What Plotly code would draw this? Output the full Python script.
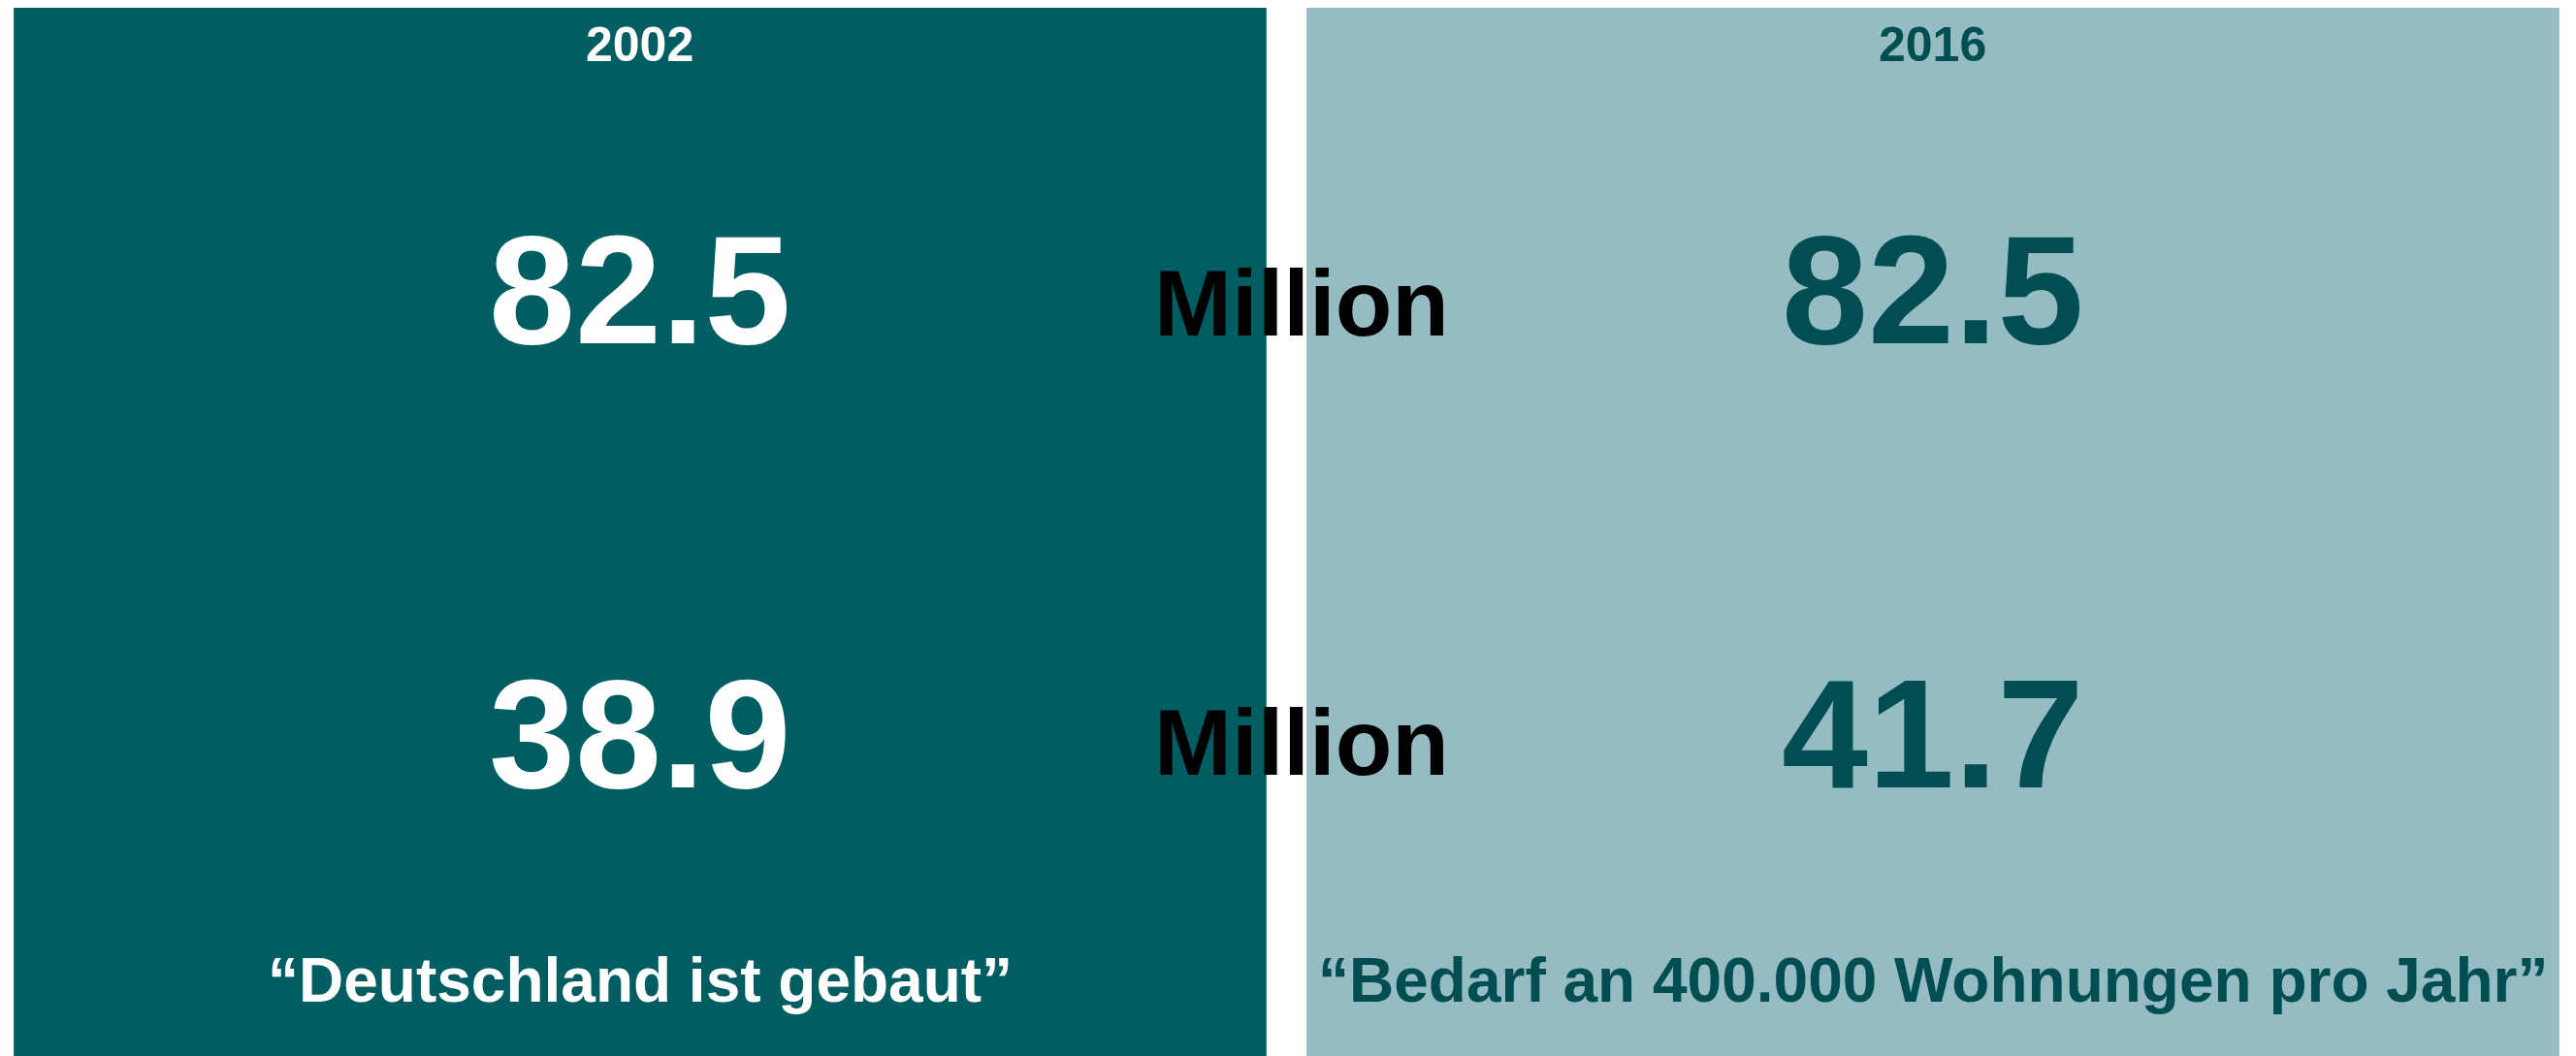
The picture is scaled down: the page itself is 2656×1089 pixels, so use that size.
import plotly.graph_objects as go

years = ["2002", "2016"]
population = [82.5, 82.5]
households = [38.9, 41.7]
unit = "Million"
quotes = ["“Deutschland ist gebaut”", "“Bedarf an 400.000 Wohnungen pro Jahr”"]

bar_colors = ["#005E63", "#95BCC3"]
text_colors = ["#FFFFFF", "#004D52"]
font = "Liberation Sans, Arial, sans-serif"

fig = go.Figure()
fig.add_trace(go.Bar(x=years, y=[1, 1], marker_color=bar_colors, marker_line_width=0,
                     width=0.969, hoverinfo="skip", showlegend=False))

annotations = []
for i, yr in enumerate(years):
    c = text_colors[i]
    annotations.append(dict(x=i, y=0.965, text="<b>%s</b>" % yr, font=dict(size=50, color=c)))
    annotations.append(dict(x=i, y=0.733, text="<b>%.1f</b>" % population[i], font=dict(size=160, color=c)))
    annotations.append(dict(x=i, y=0.313, text="<b>%.1f</b>" % households[i], font=dict(size=160, color=c)))
    annotations.append(dict(x=i, y=0.079, text="<b>%s</b>" % quotes[i], font=dict(size=64, color=c)))

for yy in [0.720, 0.304]:
    annotations.append(dict(x=0.5023, xref="paper", y=yy, text="<b>%s</b>" % unit,
                            font=dict(size=96, color="black")))

for a in annotations:
    a.setdefault("xref", "x")
    a["yref"] = "paper"
    a["showarrow"] = False
    a["yanchor"] = "middle"
    a["xanchor"] = "center"
    a["font"]["family"] = font

fig.update_layout(
    width=2656, height=1089,
    margin=dict(l=0, r=0, t=0, b=0),
    paper_bgcolor="white", plot_bgcolor="white",
    xaxis=dict(type="category", range=[-0.4891, 1.5034], visible=False, fixedrange=True),
    yaxis=dict(range=[0, 1], visible=False, fixedrange=True),
    annotations=annotations,
    showlegend=False,
)

fig.write_html("out.html", config={"displayModeBar": False})
